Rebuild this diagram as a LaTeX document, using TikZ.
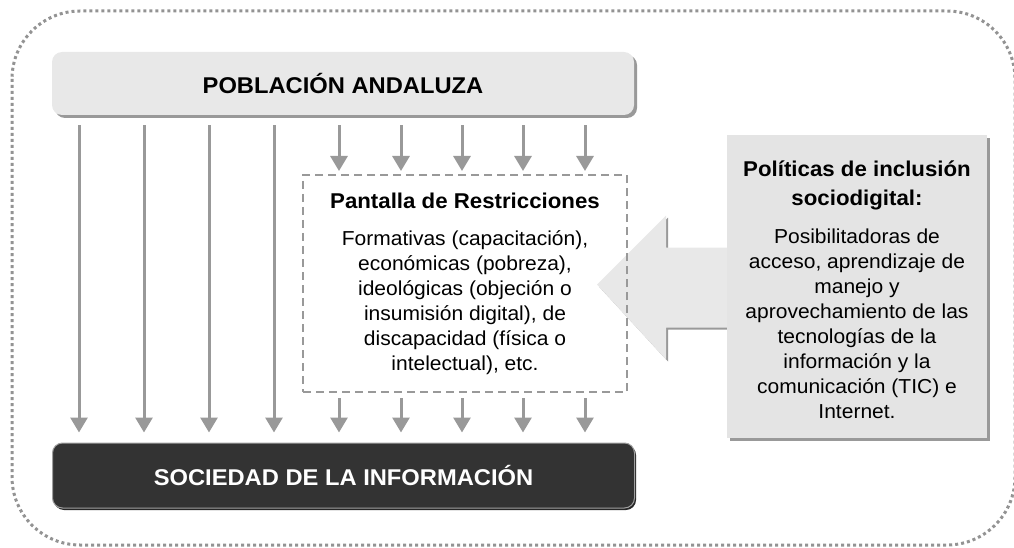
\documentclass[tikz,border=0pt]{standalone}
\usepackage{fontspec}
\setmainfont{Liberation Sans}[FakeStretch=1.04]
\usetikzlibrary{shapes,positioning,calc,arrows.meta,shadows,backgrounds}
\definecolor{grisclaro}{HTML}{E8E8E8}
\definecolor{grismedio}{HTML}{999999}
\definecolor{grisoscuro}{HTML}{333333}
\definecolor{grispanel}{HTML}{E4E4E4}

\newcommand{\fuentetitulo}{\fontsize{21.4}{24}\selectfont\bfseries}
\newcommand{\fuentetexto}{\fontsize{20.2}{25}\selectfont}

\begin{document}
\begin{tikzpicture}[x=1pt, y=-1pt,
  sombra/.style={drop shadow={shadow xshift=3pt, shadow yshift=-3pt, fill=grismedio, opacity=1}},
  bloque/.style={rectangle, rounded corners=10pt, minimum width=582pt, minimum height=63pt, inner sep=0pt, font=\fontsize{22.8}{26}\selectfont\bfseries},
  flecha/.style={draw=grismedio, line width=3pt, -{Triangle[length=15pt,width=17pt]}}]

\useasboundingbox (0,0) rectangle (1014,548);

% MARCO
\draw[gray!85, line width=3pt, dash pattern=on 3pt off 3pt, rounded corners=68pt] (12,11) rectangle (1015,545);

% BLOQUES
\node[bloque, fill=grisclaro, sombra] (poblacion) at (343,83.5) {POBLACIÓN ANDALUZA};

\node[bloque, minimum height=65pt, fill=grisoscuro, draw=gray!75, line width=1pt, text=white,
  drop shadow={shadow xshift=1.5pt, shadow yshift=-2pt, fill=black!85, opacity=1}] (sociedad) at (343.5,475.5) {SOCIEDAD DE LA INFORMACIÓN};

\node[draw=grismedio, line width=2pt, dash pattern=on 8pt off 5pt, minimum width=324pt, minimum height=217pt, inner sep=0pt, align=center, font=\fuentetexto] (restricciones) at (465,283.5)
{{\fuentetitulo Pantalla de Restricciones}\\[12pt]
 Formativas (capacitación),\\
 económicas (pobreza),\\
 ideológicas (objeción o\\
 insumisión digital), de\\
 discapacidad (física o\\
 intelectual), etc.};

\node[fill=grispanel, sombra, minimum width=260pt, minimum height=303pt, inner sep=0pt, align=center, font=\fuentetexto] (politicas) at (857,286.5)
{{\fuentetitulo\rule{0pt}{23pt}Políticas de inclusión}\\[4pt]
 {\fuentetitulo sociodigital:}\\[13pt]
 Posibilitadoras de\\
 acceso, aprendizaje de\\
 manejo y\\
 aprovechamiento de las\\
 tecnologías de la\\
 información y la\\
 comunicación (TIC) e\\
 Internet.};

% FLECHAS
\foreach \x in {79,144,209,274}
  \draw[flecha, shorten <=10pt, shorten >=10pt] (\x,0 |- poblacion.south) -- (\x,0 |- sociedad.north);

\foreach \x in {339,401,462,523,585} {
  \draw[flecha, shorten <=10pt, shorten >=3pt] (\x,0 |- poblacion.south) -- (\x,0 |- restricciones.north);
  \draw[flecha, shorten <=5pt, shorten >=10pt] (\x,0 |- restricciones.south) -- (\x,0 |- sociedad.north);
}

\begin{scope}[on background layer]
\coordinate (punta) at ($(restricciones.east)+(-31,1)$);
\path[fill=grisclaro, drop shadow={shadow xshift=2pt, shadow yshift=-2pt, fill=grismedio, opacity=1}]
  (punta) -- ++(69,-69) -- ++(0,32) -- ++(80,0) -- ++(0,80) -- ++(-80,0) -- ++(0,32) -- cycle;
\end{scope}

\end{tikzpicture}
\end{document}
